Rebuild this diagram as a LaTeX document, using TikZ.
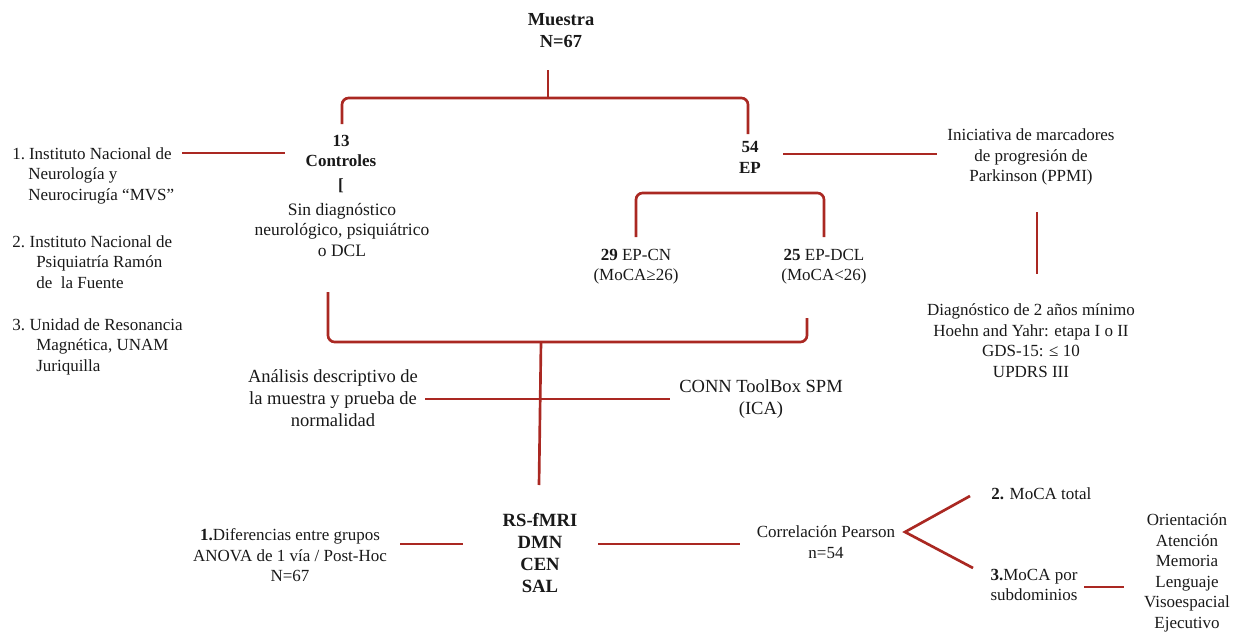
\documentclass[tikz,border=0pt]{standalone}
\usepackage{fontspec}
\setmainfont{Liberation Serif}
\definecolor{lred}{RGB}{170,40,34}
\begin{document}
\begin{tikzpicture}[x=0.75pt,y=-0.75pt,
  lbl/.style={inner sep=0pt, align=center, text=black!90, font=\fontsize{12.75}{15.4}\selectfont},
  lbll/.style={lbl, align=left, anchor=west},
  bl/.style={lbl, font=\fontsize{12.75}{15.4}\selectfont\bfseries},
  big/.style={font=\fontsize{13.9}{16.5}\selectfont},
  bigb/.style={font=\fontsize{14}{16.6}\selectfont\bfseries},
  conn/.style={draw=lred, line width=2pt, rounded corners=5pt},
  sconn/.style={draw=lred, line width=2pt}]
\useasboundingbox (0,0) rectangle (1239,632);

% ---- nodes ----
\node[bl, font=\fontsize{13.8}{16.5}\selectfont\bfseries] (muestra) at (561,30.5) {Muestra\\N=67};
\node[bl] (ctrl) at (341,151) {13\\Controles};
\node[bl] (brk) at (341,186) {[};
\node[lbl, font=\fontsize{13.1}{15.4}\selectfont] (sindiag) at (342,230) {Sin diagnóstico\\neurológico, psiquiátrico\\o DCL};
\node[lbll] (inst1) at (12,175.5) {1.\hspace{3pt}Instituto Nacional de\\\hspace*{12pt}Neurología y\\\hspace*{12pt}Neurocirugía “MVS”};
\node[lbll] (inst2) at (12,262) {2.\hspace{3.5pt}Instituto Nacional de\\\hspace*{18pt}Psiquiatría Ramón\\\hspace*{18pt}de\ \ la Fuente};
\node[lbll] (inst3) at (12,346.5) {3.\hspace{3.5pt}Unidad de Resonancia\\\hspace*{18pt}Magnética, UNAM\\\hspace*{18pt}Juriquilla};
\node[bl] (ep) at (750,157.5) {54\\EP};
\node[lbl] (ppmi) at (1031,157) {Iniciativa de marcadores\\de progresión de\\Parkinson (PPMI)};
\node[lbl] (diag) at (1031,340.5) {Diagnóstico de 2 años mínimo\\Hoehn and Yahr: etapa I o II\\GDS-15: ≤ 10\\UPDRS III};
\node[lbl] (epcn) at (636,266.5) {\textbf{29} EP-CN\\(MoCA≥26)};
\node[lbl] (epdcl) at (824,266.5) {\textbf{25} EP-DCL\\(MoCA<26)};
\node[lbl, big] (anal) at (333,398) {Análisis descriptivo de\\la muestra y prueba de\\normalidad};
\node[lbl, big] (conn) at (761,399) {CONN ToolBox SPM\\(ICA)};
\node[lbl, bigb] (rs) at (540,553) {RS-fMRI\\DMN\\CEN\\SAL};
\node[lbl] (diff) at (290,555.5) {\textbf{1.}Diferencias entre grupos\\ANOVA de 1 vía / Post-Hoc\\N=67};
\node[lbl] (pear) at (826,542) {Correlación Pearson\\n=54};
\node[lbll] (moca2) at (991,494) {\textbf{2.} MoCA total};
\node[lbl] (moca3) at (1034,585) {\textbf{3.}MoCA por\\subdominios};
\node[lbl] (dom) at (1187,573) {Orientación\\Atención\\Memoria\\Lenguaje\\Visoespacial\\Ejecutivo};

% ---- connector end points ----
\coordinate (mA) at (548,70);
\coordinate (mB) at (548,98);
\coordinate (cTop) at (342,124);
\coordinate (eTop) at (748,134);
\coordinate (i1R) at (182,153);
\coordinate (cL) at (285,153);
\coordinate (eR) at (783,154);
\coordinate (pL) at (937,154);
\coordinate (pB) at (1037,212);
\coordinate (dT) at (1037,274);
\coordinate (cnT) at (636,237);
\coordinate (dclT) at (824,237);
\coordinate (sdB) at (328,292);
\coordinate (dclB) at (807,318);
\coordinate (jn) at (541,342);
\coordinate (rsT) at (539,485);
\coordinate (anR) at (425,399);
\coordinate (coL) at (670,399);
\coordinate (dfR) at (400,544);
\coordinate (rsL) at (463,544);
\coordinate (rsR) at (598,544);
\coordinate (peL) at (740,544);
\coordinate (apex) at (905,532);
\coordinate (m2L) at (970,496);
\coordinate (m3L) at (973,568);
\coordinate (m3R) at (1084,587);
\coordinate (doL) at (1124,587);

% ---- connectors ----
\draw[sconn] (mA) -- (mB);
\draw[conn] (cTop) -- (cTop |- mB) -- (eTop |- mB) -- (eTop);
\draw[sconn] (i1R) -- (cL);
\draw[sconn] (eR) -- (pL);
\draw[sconn] (pB) -- (dT);
\draw[conn] (cnT) -- (636,193) -- (824,193) -- (dclT);
\draw[conn] (sdB) -- (sdB |- jn) -- (dclB |- jn) -- (dclB);
\draw[sconn] (jn) -- (rsT);
\draw[sconn] (anR) -- (coL);
\draw[sconn] (dfR) -- (rsL);
\draw[sconn] (rsR) -- (peL);
\draw[sconn] (m2L) -- (apex) -- (m3L);
\draw[sconn] (m3R) -- (doL);
\end{tikzpicture}
\end{document}
